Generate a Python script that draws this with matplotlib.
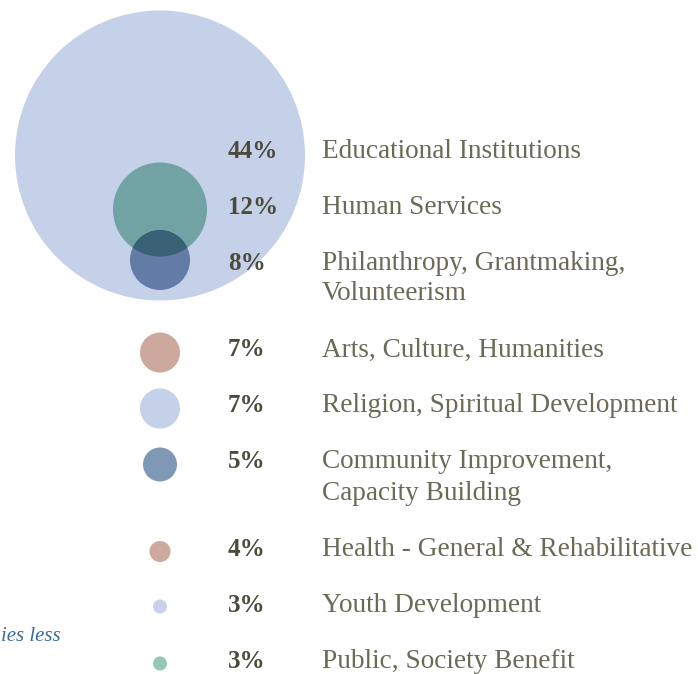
import matplotlib
matplotlib.use("Agg")
import matplotlib.pyplot as plt
from matplotlib.patches import Circle
from matplotlib.colors import to_rgb

# data
categories = [
    "Educational Institutions",
    "Human Services",
    "Philanthropy, Grantmaking,\nVolunteerism",
    "Arts, Culture, Humanities",
    "Religion, Spiritual Development",
    "Community Improvement,\nCapacity Building",
    "Health - General & Rehabilitative",
    "Youth Development",
    "Public, Society Benefit",
]
shares = [44, 12, 8, 7, 7, 5, 4, 3, 3]
pct_labels = ["44%", "12%", "8%", "7%", "7%", "5%", "4%", "3%", "3%"]

# style
radius_px = [145, 47, 30, 20, 20, 17, 10.5, 7, 7]
circle_nudge = [2, 0, -5.5, 0, 0, 0, 0, -1, 0]
base_colors = ["#C5D0E9", "#92C8B5", "#7F98B6", "#CDA89C", "#C5D0E9",
               "#7F98B6", "#CDA89C", "#C5D0E9", "#92C8B5"]
pct_color = "#4B4B3C"
label_color = "#6A6A56"
serif = ["Liberation Serif", "DejaVu Serif"]

W, H = 698, 674
circle_x = 160
pct_x = 228
label_x = 322
top_row = 153.5
row_step = 56
line_step = 31


def multiply(a, b):
    a, b = to_rgb(a), to_rgb(b)
    return tuple(x * y for x, y in zip(a, b))


# row positions from line counts
row_y = []
y = top_row
for cat in categories:
    row_y.append(y)
    y += row_step + line_step * cat.count("\n")
cy = [r + n for r, n in zip(row_y, circle_nudge)]

fig = plt.figure(figsize=(W / 100, H / 100), dpi=100)
ax = fig.add_axes([0, 0, 1, 1])
ax.set_xlim(0, W)
ax.set_ylim(H, 0)
ax.set_aspect("equal")
ax.axis("off")

# the top three circles are stacked and blend like multiply
big = Circle((circle_x, cy[0]), radius_px[0], color=base_colors[0], lw=0)
ax.add_patch(big)
teal_col = multiply(base_colors[1], base_colors[0])
teal = Circle((circle_x, cy[1]), radius_px[1], color=teal_col, lw=0)
ax.add_patch(teal)
dark = Circle((circle_x, cy[2]), radius_px[2],
              color=multiply(base_colors[2], base_colors[0]), lw=0)
ax.add_patch(dark)
overlap = Circle((circle_x, cy[2]), radius_px[2],
                 color=multiply(base_colors[2], teal_col), lw=0)
ax.add_patch(overlap)
overlap.set_clip_path(teal)

for i in range(3, len(categories)):
    ax.add_patch(Circle((circle_x, cy[i]), radius_px[i],
                        color=base_colors[i], lw=0))

for i, (cat, pct) in enumerate(zip(categories, pct_labels)):
    base = row_y[i] + 4
    ax.text(pct_x, base, pct, family=serif, fontweight="bold", fontsize=18,
            color=pct_color, va="baseline", ha="left")
    for j, line in enumerate(cat.split("\n")):
        ax.text(label_x, base + j * line_step, line, family=serif, fontsize=19.6,
                color=label_color, va="baseline", ha="left")

ax.text(61, 641, "ies less", family=serif, style="italic", fontsize=15,
        color="#3A6B9B", va="baseline", ha="right")

fig.savefig("out.png", dpi=100)
